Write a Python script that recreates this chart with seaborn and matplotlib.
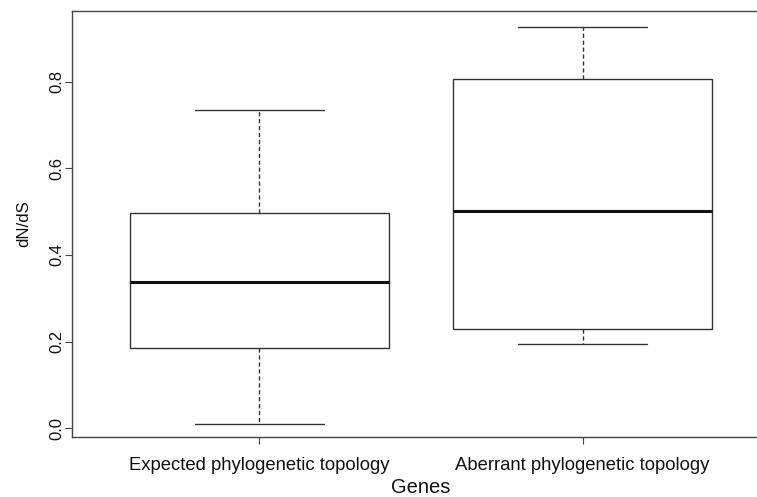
import pandas as pd
import matplotlib
matplotlib.use("Agg")
import matplotlib.pyplot as plt
import seaborn as sns

# five-number summaries (min, Q1, median, Q3, max)
genes = ["Expected phylogenetic topology", "Aberrant phylogenetic topology"]
expected = [0.011, 0.186, 0.338, 0.497, 0.735]
aberrant = [0.195, 0.230, 0.501, 0.806, 0.927]
yticks = [0.0, 0.2, 0.4, 0.6, 0.8]

df = pd.DataFrame({
    "Genes": [genes[0]] * len(expected) + [genes[1]] * len(aberrant),
    "dN/dS": expected + aberrant,
})

sns.set_style("ticks")
plt.rcParams["font.family"] = ["Liberation Sans", "DejaVu Sans"]

fig = plt.figure(figsize=(7.57, 4.97), dpi=100)
ax = fig.add_axes([72 / 757, 60 / 497, 698 / 757, 426 / 497])

line = "#333333"
sns.boxplot(data=df, x="Genes", y="dN/dS", order=genes, ax=ax,
            width=0.8, whis=(0, 100), color="white", linecolor=line, linewidth=1,
            boxprops=dict(facecolor="white", edgecolor=line),
            whiskerprops=dict(linestyle=(0, (3, 2)), color=line, linewidth=1),
            capprops=dict(color=line, linewidth=1),
            medianprops=dict(color="#111111", linewidth=2.2))

ax.set_xlim(-0.58, 1.58)
ax.set_ylim(-0.02, 0.963)
ax.set_yticks(yticks)
ax.set_yticklabels([f"{v:.1f}" for v in yticks], rotation=90, va="center")
for s in ax.spines.values():
    s.set_visible(True)
    s.set_color("#444444")
    s.set_linewidth(1)
ax.tick_params(axis="both", direction="out", length=5.3, width=0.8, colors="#444444",
               labelcolor="#111111")
ax.tick_params(axis="x", labelsize=13.3, pad=9)
ax.tick_params(axis="y", labelsize=12, pad=0.5)
ax.set_xlabel("Genes", fontsize=14.5, labelpad=3, color="#111111")
ax.set_ylabel("dN/dS", fontsize=12.2, labelpad=13, color="#111111")

fig.savefig("out.png", dpi=100)
